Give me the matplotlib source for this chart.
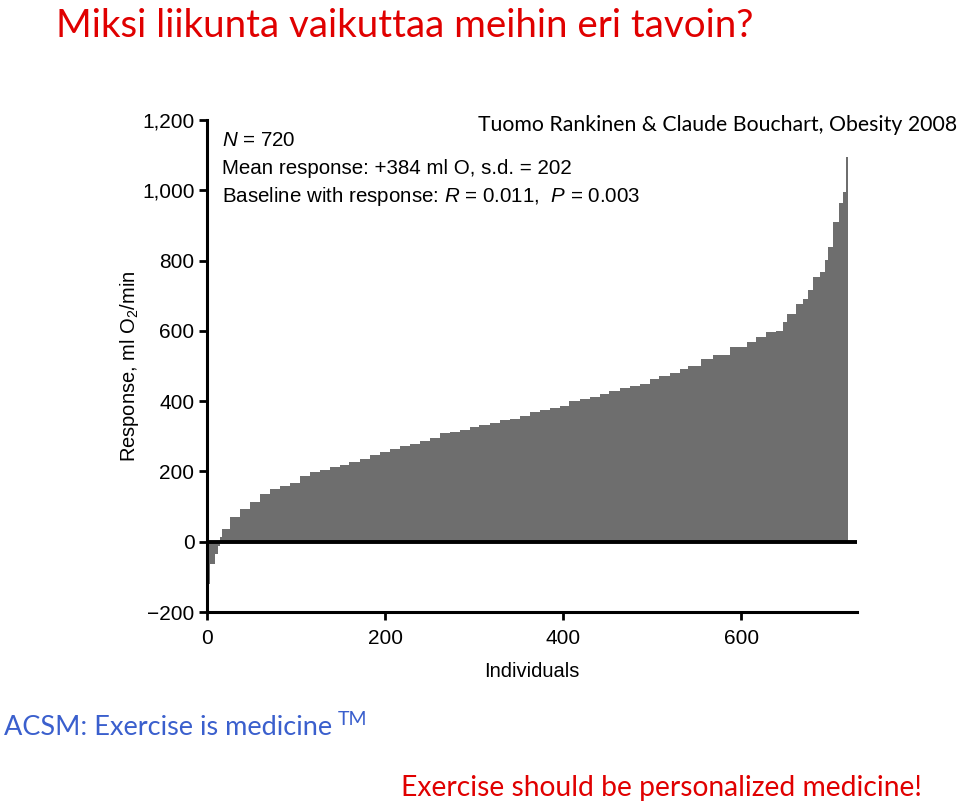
"""Slide: individual VO2max training responses (HERITAGE), ranked bar chart."""

import matplotlib

matplotlib.use("Agg")
import matplotlib.pyplot as plt

# Individuals ranked by response: left edge of each step and its response (ml O2/min)
rank = [0, 3, 9, 12, 15, 17, 26, 37, 48, 60, 71, 82, 93, 104, 116, 127, 138, 149,
        160, 172, 183, 194, 205, 217, 228, 239, 250, 262, 273, 284, 295, 306, 318,
        329, 340, 351, 363, 374, 385, 396, 407, 419, 430, 441, 452, 464, 475, 486,
        497, 508, 520, 531, 540, 555, 568, 587, 606, 617, 628, 639, 647, 651, 662,
        669, 675, 681, 688, 694, 697, 703, 710, 714, 718]
response = [-120, -63, -35, -11, 12, 37, 69, 94, 112, 136, 151, 158, 166, 188, 197,
            205, 212, 219, 226, 234, 248, 254, 264, 272, 278, 288, 295, 309, 311,
            318, 326, 332, 337, 345, 350, 359, 368, 375, 381, 387, 400, 406, 413,
            421, 430, 437, 442, 449, 463, 471, 481, 492, 501, 519, 530, 553, 568,
            582, 596, 601, 625, 649, 677, 691, 715, 753, 767, 801, 839, 910, 963,
            995, 1095]
n_total = 720

y_ticks = [-200, 0, 200, 400, 600, 800, 1000, 1200]
y_ticklabels = ["\u2212200", "0", "200", "400", "600", "800", "1,000", "1,200"]
x_ticks = [0, 200, 400, 600]

stats_lines = [
    r"$N$ = 720",
    "Mean response: +384 ml O, s.d. = 202",
    r"Baseline with response: $R$ = 0.011,  $P$ = 0.003",
]

SLIDE_FONT = "Lato"
PLOT_FONT = "Liberation Sans"
RED = "#e00000"
BLUE = "#3a5fcd"

plt.rcParams["mathtext.fontset"] = "custom"
plt.rcParams["mathtext.rm"] = PLOT_FONT
plt.rcParams["mathtext.it"] = PLOT_FONT + ":italic"

fig = plt.figure(figsize=(9.59, 8.05), dpi=100)
ax = fig.add_axes([207 / 959, 1 - 612 / 805, 650 / 959, 492 / 805])

edges = rank + [n_total]
ax.stairs(response, edges, baseline=0, fill=True, color="#6e6e6e", linewidth=0)
ax.axhline(0, color="black", linewidth=2.8, zorder=3)

ax.set_xlim(0, 730)
ax.set_ylim(-200, 1200)
ax.set_yticks(y_ticks)
ax.set_yticklabels(y_ticklabels)
ax.set_xticks(x_ticks)
for spine in ("top", "right"):
    ax.spines[spine].set_visible(False)
for spine in ("left", "bottom"):
    ax.spines[spine].set_linewidth(2.2)
ax.tick_params(axis="both", direction="out", width=2, length=6, labelsize=15)
ax.tick_params(axis="x", pad=6)
ax.tick_params(axis="y", pad=3)
for lbl in ax.get_xticklabels() + ax.get_yticklabels():
    lbl.set_fontfamily(PLOT_FONT)
ax.set_xlabel("Individuals", fontsize=14.5, fontfamily=PLOT_FONT, labelpad=10)
ax.set_ylabel(r"Response, ml O$_2$/min", fontsize=14.5, fontfamily=PLOT_FONT,
              labelpad=1)

for i, line in enumerate(stats_lines):
    fig.text(222 / 959, 1 - (141 + 28 * i) / 805, line, fontsize=14.8,
             fontfamily=PLOT_FONT, va="center", ha="left")

fig.text(957 / 959, 1 - 125 / 805, "Tuomo Rankinen & Claude Bouchart, Obesity 2008",
         fontsize=15.3, fontfamily=SLIDE_FONT, ha="right", va="center")

fig.text(56 / 959, 1 - 26 / 805, "Miksi liikunta vaikuttaa meihin eri tavoin?",
         fontsize=27.7, fontfamily=SLIDE_FONT, color=RED, ha="left", va="center")
fig.text(4 / 959, 1 - 727 / 805, "ACSM: Exercise is medicine",
         fontsize=19.5, fontfamily=SLIDE_FONT, color=BLUE, ha="left", va="center")
fig.text(338 / 959, 1 - 719 / 805, "TM",
         fontsize=14, fontfamily=SLIDE_FONT, color=BLUE, ha="left", va="center")
fig.text(922 / 959, 1 - 788 / 805, "Exercise should be personalized medicine!",
         fontsize=20.3, fontfamily=SLIDE_FONT, color=RED, ha="right", va="center")

fig.savefig("out.png", dpi=100, facecolor="white")
